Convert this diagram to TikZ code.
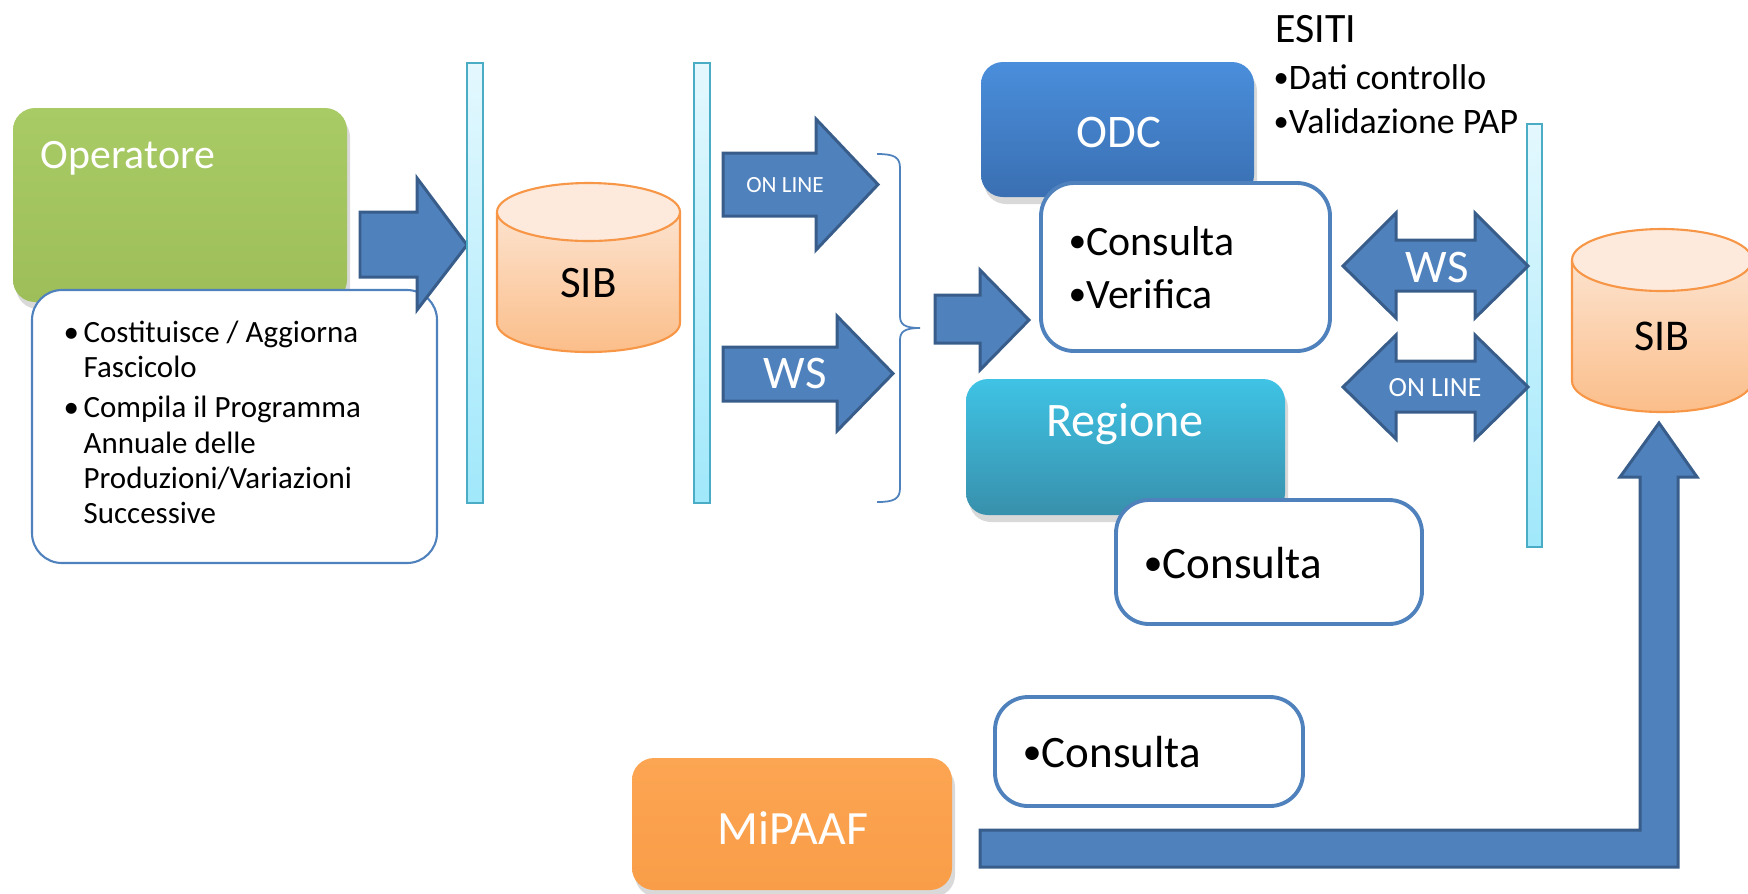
\documentclass[tikz,border=0pt]{standalone}
\usepackage{fontspec}
\setmainfont{Carlito}
\usetikzlibrary{shadows}
\definecolor{arrowfill}{HTML}{4F81BD}
\definecolor{arrowline}{HTML}{385D8A}
\definecolor{barline}{HTML}{4BACC6}
\definecolor{bartop}{HTML}{E4F8FE}
\definecolor{barbot}{HTML}{A0E8FB}
\definecolor{cyltop}{HTML}{FDEADC}
\definecolor{cylbot}{HTML}{FBBE8A}
\definecolor{cylline}{HTML}{F79646}
\definecolor{optop}{HTML}{A9CB66}
\definecolor{opbot}{HTML}{9DBE58}
\definecolor{odctop}{HTML}{4A8EDB}
\definecolor{odcbot}{HTML}{3A6FB2}
\definecolor{regtop}{HTML}{3FC3E5}
\definecolor{regbot}{HTML}{3890AC}
\definecolor{miptop}{HTML}{FCA552}
\definecolor{mipbot}{HTML}{F99D48}
\definecolor{boxline}{HTML}{4F81BD}
\newcommand{\mybul}{\raisebox{0.05em}{\scalebox{0.85}{•}}}
\begin{document}
\begin{tikzpicture}[x=0.1mm,y=-0.1mm,
  blockarrow/.style={fill=arrowfill,draw=arrowline,line width=0.85pt,line join=miter},
  bar/.style={top color=bartop,bottom color=barbot,draw=barline,line width=0.6pt,inner sep=0pt},
  actor/.style={rounded corners=2.2mm,draw=none,inner sep=0pt,
    drop shadow={opacity=0.3,shadow xshift=0.3mm,shadow yshift=-0.7mm}},
  notebox/.style={fill=white,draw=boxline,line width=1.1pt,rounded corners=3.3mm,inner sep=0pt},
  lbl/.style={inner sep=0pt,anchor=base},
  lblw/.style={inner sep=0pt,anchor=base west},
  wlbl/.style={lbl,text=white},
  cylshade/.style={top color=cyltop,bottom color=cylbot},
  cylout/.style={draw=cylline,line width=0.6pt},
  bracestyle/.style={draw=boxline,line width=0.5pt}
]
\useasboundingbox (0,0) rectangle (1748,893);
\clip (0,0) rectangle (1748,893);

% ---------- Operatore ----------
\node[actor,top color=optop,bottom color=opbot,minimum width=33.4mm,minimum height=19.4mm] (oper) at (180,205) {};
\node[lblw,text=white,font=\fontsize{11.9}{14}\selectfont] (opertxt) at (40,168) {Operatore};
\node[notebox,line width=0.6pt,rounded corners=3mm,minimum width=40.5mm,minimum height=27.3mm] (operlist) at (234.5,426.5) {};
\node[lblw,font=\fontsize{8.8}{9.96}\selectfont] (operitems) at (63,342) {%
  \begin{tabular}[t]{@{}l@{}l@{}}
  \makebox[2mm][l]{\textbullet} & Costituisce / Aggiorna\\
   & Fascicolo\\[1.7pt]
  \makebox[2mm][l]{\textbullet} & Compila il Programma\\
   & Annuale delle\\
   & Produzioni/Variazioni\\
   & Successive
  \end{tabular}};

% arrow Operatore -> bar1
\draw[blockarrow] (360,212) -- (417,212) -- (417,178) -- (467,245) -- (417,310) -- (417,277) -- (360,277) -- cycle;

% ---------- bars ----------
\node[bar,minimum width=1.6mm,minimum height=44mm] (bar1) at (475,283) {};
\node[bar,minimum width=1.6mm,minimum height=44mm] (bar2) at (702,283) {};
\node[bar,minimum width=1.5mm,minimum height=42.3mm] (bar3) at (1534.5,335.5) {};

% ---------- SIB 1 ----------
\shade[cylshade] (497,212) -- (497,323) arc[start angle=180,end angle=360,x radius=9.15mm,y radius=2.9mm]
  -- (680,212) arc[start angle=0,end angle=180,x radius=9.15mm,y radius=2.9mm] -- cycle;
\draw[cylout] (497,212) -- (497,323) arc[start angle=180,end angle=360,x radius=9.15mm,y radius=2.9mm] -- (680,212);
\draw[cylout,fill=cyltop] (588.5,212) ellipse[x radius=9.15mm,y radius=2.9mm];
\node[lbl,font=\fontsize{12.8}{15}\selectfont] (sib1) at (588.5,297) {SIB};

% ---------- SIB 2 ----------
\shade[cylshade] (1572,260) -- (1572,381) arc[start angle=180,end angle=360,x radius=9mm,y radius=3.1mm]
  -- (1752,260) arc[start angle=0,end angle=180,x radius=9mm,y radius=3.1mm] -- cycle;
\draw[cylout] (1572,260) -- (1572,381) arc[start angle=180,end angle=360,x radius=9mm,y radius=3.1mm] -- (1752,260);
\draw[cylout,fill=cyltop] (1662,260) ellipse[x radius=9mm,y radius=3.1mm];
\node[lbl,font=\fontsize{12.5}{15}\selectfont] (sib2) at (1662,350) {SIB};

% ---------- arrows from bar2 ----------
\draw[blockarrow] (723,153) -- (816,153) -- (816,119) -- (878,184.5) -- (816,250) -- (816,216) -- (723,216) -- cycle;
\node[wlbl,font=\fontsize{6.6}{8}\selectfont] (online1) at (785,192) {ON LINE};
\draw[blockarrow] (723,347) -- (837,347) -- (837,316) -- (893,373.5) -- (837,431) -- (837,401) -- (723,401) -- cycle;
\node[wlbl,font=\fontsize{13.3}{15}\selectfont] (ws1) at (795,388) {WS};

% brace
\coordinate (bracetop) at (877,154);
\coordinate (bracetip) at (920,328);
\coordinate (bracebot) at (877,502);
\draw[bracestyle] (bracetop) .. controls (894,154) and (900,157) .. (900,168) -- (900,316)
  .. controls (900,324) and (904,328) .. (bracetip)
  .. controls (904,328) and (900,332) .. (900,340) -- (900,488)
  .. controls (900,499) and (894,502) .. (bracebot);

% arrow into Consulta/Verifica
\draw[blockarrow] (935,295) -- (980,295) -- (980,270) -- (1029,320) -- (980,370) -- (980,343) -- (935,343) -- cycle;

% ---------- ODC ----------
\node[actor,top color=odctop,bottom color=odcbot,minimum width=27.3mm,minimum height=13.5mm] (odc) at (1117.5,129.5) {};
\node[wlbl,font=\fontsize{13.3}{15}\selectfont] (odctxt) at (1119,147) {ODC};
\node[notebox,minimum width=28.9mm,minimum height=16.8mm] (cv) at (1185.5,267) {};
\node[lblw,font=\fontsize{11.9}{14}\selectfont] (cv1) at (1068,255) {\mybul Consulta};
\node[lblw,font=\fontsize{11.9}{14}\selectfont] (cv2) at (1068,308) {\mybul Verifica};

% ESITI
\node[lblw,font=\fontsize{11.9}{14}\selectfont] (esiti) at (1275,42) {ESITI};
\node[lblw,font=\fontsize{10.2}{12}\selectfont] (esiti1) at (1273,89) {\mybul Dati controllo};
\node[lblw,font=\fontsize{10.2}{12}\selectfont] (esiti2) at (1273,133) {\mybul Validazione PAP};

% ---------- double arrows ----------
\draw[blockarrow] (1343,266) -- (1396,213) -- (1396,240) -- (1475,240) -- (1475,213) -- (1528,266)
  -- (1475,318) -- (1475,291) -- (1396,291) -- (1396,318) -- cycle;
\node[wlbl,font=\fontsize{13.3}{15}\selectfont] (ws2) at (1437,282) {WS};
\draw[blockarrow] (1343,387) -- (1396,335) -- (1396,361) -- (1475,361) -- (1475,335) -- (1528,387)
  -- (1475,439) -- (1475,412) -- (1396,412) -- (1396,439) -- cycle;
\node[wlbl,font=\fontsize{7.9}{9}\selectfont] (online2) at (1435,396) {ON LINE};

% ---------- Regione ----------
\node[actor,top color=regtop,bottom color=regbot,minimum width=31.9mm,minimum height=13.6mm] (regione) at (1125.5,447) {};
\node[wlbl,font=\fontsize{13.7}{16}\selectfont] (regtxt) at (1125,436) {Regione};
\node[notebox,minimum width=30.6mm,minimum height=12.4mm] (cons2) at (1269,562) {};
\node[lblw,font=\fontsize{12.8}{15}\selectfont] (cons2txt) at (1143,578) {\mybul Consulta};

% ---------- MiPAAF ----------
\node[notebox,minimum width=30.8mm,minimum height=10.9mm] (cons3) at (1149,751.5) {};
\node[lblw,font=\fontsize{12.8}{15}\selectfont] (cons3txt) at (1022,767) {\mybul Consulta};
\node[actor,top color=miptop,bottom color=mipbot,minimum width=32mm,minimum height=13.2mm] (mipaaf) at (792,824) {};
\node[wlbl,font=\fontsize{13.6}{16}\selectfont] (miptxt) at (793,844) {MiPAAF};

% L-shaped arrow MiPAAF -> SIB 2
\draw[blockarrow] (980,830) -- (1640,830) -- (1640,477) -- (1620,477) -- (1659,423) -- (1697,477)
  -- (1678,477) -- (1678,867) -- (980,867) -- cycle;
\end{tikzpicture}
\end{document}
